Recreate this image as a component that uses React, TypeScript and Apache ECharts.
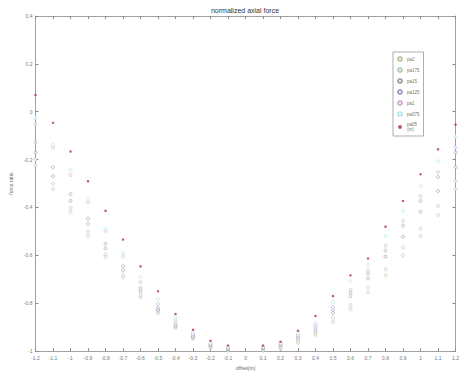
import React, { useEffect, useRef } from "react";
import * as echarts from "echarts";

const offsets = [-1.2, -1.1, -1.0, -0.9, -0.8, -0.7, -0.6, -0.5, -0.4, -0.3, -0.2, -0.1, 0, 0.1, 0.2, 0.3, 0.4, 0.5, 0.6, 0.7, 0.8, 0.9, 1.0, 1.1, 1.2];

const seriesNames = ["pa2", "pa175", "pa15", "pa125", "pa1", "pa075", "pa05\n(m)"];

const pa2 = [-0.224, -0.323, -0.418, -0.518, -0.605, -0.692, -0.774, -0.841, -0.903, -0.948, -0.986, -0.998, null, -0.998, -0.99, -0.965, -0.932, -0.878, -0.824, -0.754, -0.683, -0.6, -0.518, -0.431, -0.323];
const pa175 = [-0.199, -0.302, -0.402, -0.501, -0.596, -0.683, -0.766, -0.832, -0.898, -0.944, -0.981, -0.994, null, -0.994, -0.986, -0.957, -0.923, -0.861, -0.807, -0.733, -0.658, -0.567, -0.489, -0.393, -0.29];
const pa15 = [-0.17, -0.269, -0.373, -0.468, -0.571, -0.663, -0.75, -0.828, -0.894, -0.94, -0.977, -0.992, null, -0.99, -0.977, -0.948, -0.915, -0.841, -0.77, -0.696, -0.605, -0.522, -0.418, -0.331, -0.232];
const pa125 = [-0.128, -0.232, -0.344, -0.447, -0.551, -0.646, -0.737, -0.82, -0.886, -0.936, -0.973, -0.99, null, -0.986, -0.973, -0.94, -0.903, -0.828, -0.754, -0.675, -0.58, -0.476, -0.373, -0.273, -0.17];
const pa1 = [-0.054, -0.149, -0.265, -0.377, -0.497, -0.605, -0.712, -0.803, -0.87, -0.928, -0.969, -0.986, null, -0.983, -0.969, -0.932, -0.89, -0.816, -0.745, -0.663, -0.559, -0.455, -0.352, -0.253, -0.149];
const pa075 = [-0.025, -0.137, -0.244, -0.364, -0.489, -0.592, -0.691, -0.783, -0.857, -0.919, -0.965, -0.981, null, -0.981, -0.965, -0.923, -0.882, -0.795, -0.708, -0.638, -0.518, -0.414, -0.311, -0.207, -0.104];
const pa05 = [0.07, -0.046, -0.166, -0.29, -0.414, -0.534, -0.646, -0.75, -0.845, -0.911, -0.957, -0.977, null, -0.977, -0.961, -0.915, -0.853, -0.77, -0.683, -0.613, -0.48, -0.373, -0.261, -0.157, -0.054];

const allValues = [pa2, pa175, pa15, pa125, pa1, pa075, pa05];
const colors = ["#b8b488", "#a0c4a0", "#8c8c8c", "#8a8ab8", "#c89ad0", "#9ee4ea", "#b03050"];

const fmt = (v: number) => String(Math.round(v * 10) / 10);

export default function App() {
  const ref = useRef<HTMLDivElement>(null);
  useEffect(() => {
    if (!ref.current) return;
    const chart = echarts.init(ref.current, undefined, { renderer: "svg" });
    const axisColor = "#8a8a8a";
    const labelStyle = { color: "#777", fontSize: 5, fontFamily: "Liberation Sans" };
    chart.setOption({
      animation: false,
      backgroundColor: "#fff",
      title: {
        text: "normalized axial force",
        left: 240,
        textAlign: "center",
        top: 2,
        textStyle: { fontSize: 7, fontWeight: "normal", color: "#333333", fontFamily: "Liberation Sans" },
      },
      legend: {
        orient: "vertical",
        left: 393,
        top: 52,
        itemWidth: 4,
        itemHeight: 4,
        itemGap: 5,
        padding: [4, 4, 4, 4],
        backgroundColor: "#fff",
        borderColor: "#999",
        borderWidth: 0.8,
        borderRadius: 0,
        textStyle: { fontSize: 4.5, color: "#777", fontFamily: "Liberation Sans", lineHeight: 5 },
        data: seriesNames,
      },
      grid: { left: 20, right: 2, top: 16, bottom: 21, containLabel: false },
      xAxis: [
        {
          type: "value",
          min: -1.2,
          max: 1.2,
          interval: 0.1,
          name: "offset(m)",
          nameLocation: "middle",
          nameGap: 13,
          nameTextStyle: { fontSize: 5, color: "#666", fontFamily: "Liberation Sans" },
          axisLine: { onZero: false, lineStyle: { color: axisColor, width: 0.8 } },
          axisTick: { inside: true, length: 3, lineStyle: { color: axisColor } },
          axisLabel: { ...labelStyle, formatter: fmt, margin: 4 },
          splitLine: { show: false },
        },
        {
          type: "value",
          position: "top",
          min: -1.2,
          max: 1.2,
          interval: 0.1,
          axisLine: { onZero: false, lineStyle: { color: axisColor, width: 0.8 } },
          axisTick: { inside: true, length: 3, lineStyle: { color: axisColor } },
          axisLabel: { show: false },
          splitLine: { show: false },
        },
      ],
      yAxis: [
        {
          type: "value",
          min: -1,
          max: 0.4,
          interval: 0.2,
          name: "force ratio",
          nameLocation: "middle",
          nameGap: 11,
          nameTextStyle: { fontSize: 5, color: "#666", fontFamily: "Liberation Sans" },
          axisLine: { onZero: false, lineStyle: { color: axisColor, width: 0.8 } },
          axisTick: { inside: true, length: 3, lineStyle: { color: axisColor } },
          axisLabel: { ...labelStyle, formatter: fmt, margin: 3 },
          splitLine: { show: false },
        },
        {
          type: "value",
          position: "right",
          min: -1,
          max: 0.4,
          interval: 0.2,
          axisLine: { onZero: false, lineStyle: { color: axisColor, width: 0.8 } },
          axisTick: { inside: true, length: 3, lineStyle: { color: axisColor } },
          axisLabel: { show: false },
          splitLine: { show: false },
        },
      ],
      series: seriesNames.map((name, i) => {
        const isStar = i === seriesNames.length - 1;
        return {
          name,
          type: "scatter",
          xAxisIndex: 0,
          yAxisIndex: 0,
          symbol: "circle",
          symbolSize: isStar ? 2.5 : 3,
          itemStyle: isStar
            ? { color: colors[i] }
            : { color: "#fff", borderColor: colors[i], borderWidth: 0.7 },
          data: offsets.map((x, j) => [x, allValues[i][j]]).filter((p) => p[1] !== null),
        };
      }),
    });
    return () => chart.dispose();
  }, []);
  return <div ref={ref} style={{ position: "fixed", left: 0, top: 0, width: 462, height: 375 }} />;
}
